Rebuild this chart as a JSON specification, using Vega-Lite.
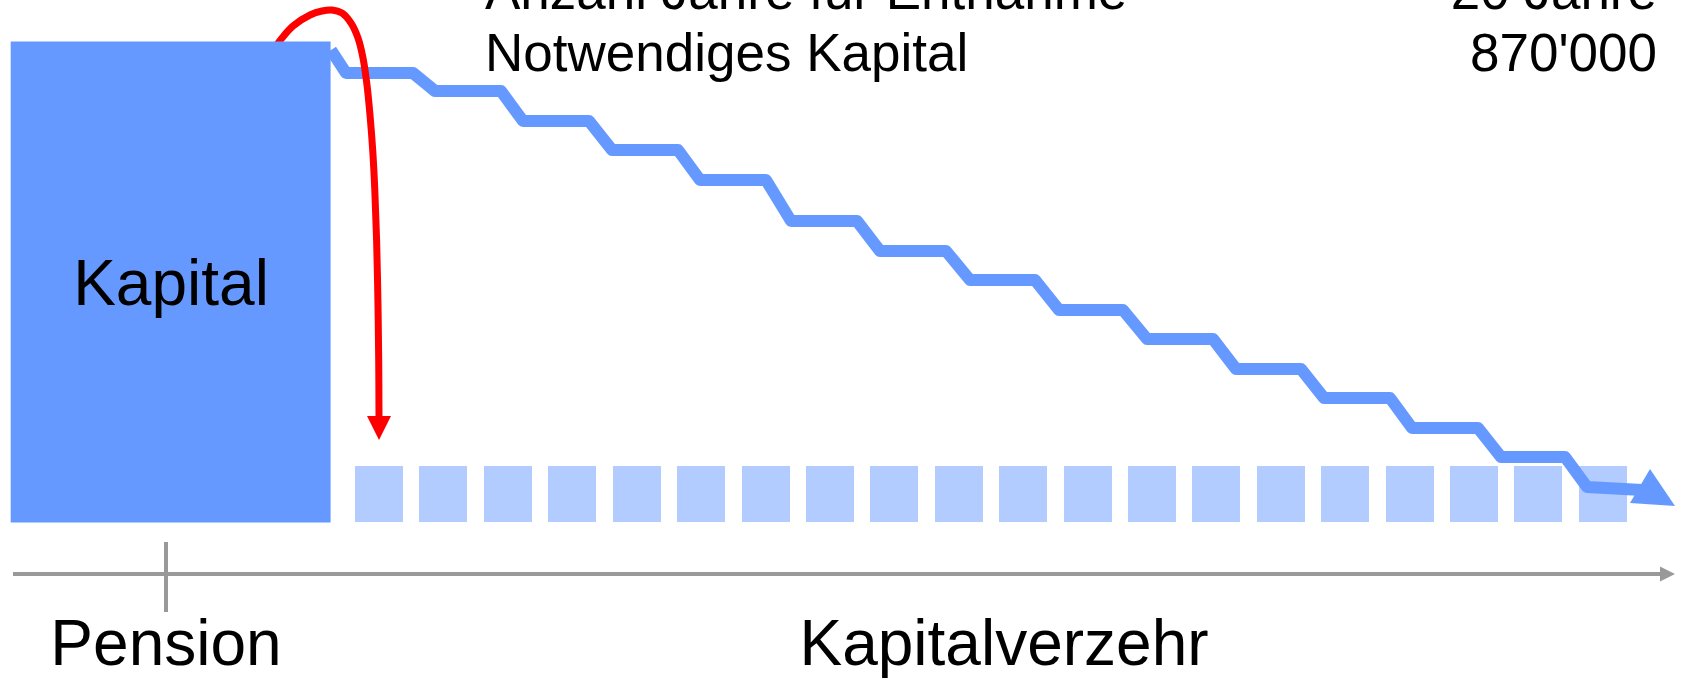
{
  "$schema": "https://vega.github.io/schema/vega-lite/v6.json",
  "width": 1683,
  "height": 679,
  "padding": 0,
  "autosize": {"type": "none"},
  "background": "white",
  "config": {"view": {"stroke": null}, "font": "Liberation Sans"},
  "datasets": {
    "capital": [{"x": 10.7, "x2": 330.6, "y": 41.5, "y2": 522.5}],
    "years": [
      {"year": 1, "x": 355, "x2": 403, "y": 466, "y2": 522},
      {"year": 2, "x": 419, "x2": 467, "y": 466, "y2": 522},
      {"year": 3, "x": 484, "x2": 532, "y": 466, "y2": 522},
      {"year": 4, "x": 548, "x2": 596, "y": 466, "y2": 522},
      {"year": 5, "x": 613, "x2": 661, "y": 466, "y2": 522},
      {"year": 6, "x": 677, "x2": 725, "y": 466, "y2": 522},
      {"year": 7, "x": 742, "x2": 790, "y": 466, "y2": 522},
      {"year": 8, "x": 806, "x2": 854, "y": 466, "y2": 522},
      {"year": 9, "x": 870, "x2": 918, "y": 466, "y2": 522},
      {"year": 10, "x": 935, "x2": 983, "y": 466, "y2": 522},
      {"year": 11, "x": 999, "x2": 1047, "y": 466, "y2": 522},
      {"year": 12, "x": 1064, "x2": 1112, "y": 466, "y2": 522},
      {"year": 13, "x": 1128, "x2": 1176, "y": 466, "y2": 522},
      {"year": 14, "x": 1192, "x2": 1240, "y": 466, "y2": 522},
      {"year": 15, "x": 1257, "x2": 1305, "y": 466, "y2": 522},
      {"year": 16, "x": 1321, "x2": 1369, "y": 466, "y2": 522},
      {"year": 17, "x": 1386, "x2": 1434, "y": 466, "y2": 522},
      {"year": 18, "x": 1450, "x2": 1498, "y": 466, "y2": 522},
      {"year": 19, "x": 1514, "x2": 1562, "y": 466, "y2": 522},
      {"year": 20, "x": 1579, "x2": 1627, "y": 466, "y2": 522}
    ],
    "steps": [
      {"i": 0, "x": 331, "y": 50},
      {"i": 1, "x": 346, "y": 73}, {"i": 2, "x": 413, "y": 73},
      {"i": 3, "x": 435, "y": 91}, {"i": 4, "x": 501, "y": 91},
      {"i": 5, "x": 523, "y": 121}, {"i": 6, "x": 589, "y": 121},
      {"i": 7, "x": 612, "y": 150}, {"i": 8, "x": 678, "y": 150},
      {"i": 9, "x": 700, "y": 180}, {"i": 10, "x": 766, "y": 180},
      {"i": 11, "x": 791, "y": 221}, {"i": 12, "x": 857, "y": 221},
      {"i": 13, "x": 880, "y": 251}, {"i": 14, "x": 946, "y": 251},
      {"i": 15, "x": 970, "y": 280}, {"i": 16, "x": 1035, "y": 280},
      {"i": 17, "x": 1059, "y": 310}, {"i": 18, "x": 1123, "y": 310},
      {"i": 19, "x": 1147, "y": 339}, {"i": 20, "x": 1213, "y": 339},
      {"i": 21, "x": 1236, "y": 369}, {"i": 22, "x": 1301, "y": 369},
      {"i": 23, "x": 1324, "y": 398}, {"i": 24, "x": 1390, "y": 398},
      {"i": 25, "x": 1412, "y": 428}, {"i": 26, "x": 1478, "y": 428},
      {"i": 27, "x": 1501, "y": 457}, {"i": 28, "x": 1565, "y": 457},
      {"i": 29, "x": 1587, "y": 487}, {"i": 30, "x": 1642, "y": 490}
    ],
    "curve": [
      {"i": 0, "x": 276, "y": 46}, {"i": 1, "x": 282, "y": 38},
      {"i": 2, "x": 293, "y": 26}, {"i": 3, "x": 310, "y": 15},
      {"i": 4, "x": 322, "y": 11}, {"i": 5, "x": 332, "y": 10},
      {"i": 6, "x": 342, "y": 13}, {"i": 7, "x": 351, "y": 23},
      {"i": 8, "x": 358, "y": 38}, {"i": 9, "x": 363, "y": 58},
      {"i": 10, "x": 367, "y": 85}, {"i": 11, "x": 370, "y": 115},
      {"i": 12, "x": 372.7, "y": 150}, {"i": 13, "x": 374.8, "y": 190},
      {"i": 14, "x": 376.6, "y": 240}, {"i": 15, "x": 377.9, "y": 300},
      {"i": 16, "x": 378.7, "y": 360}, {"i": 17, "x": 379, "y": 418}
    ],
    "redHead": [{"x": 379, "y": 428}],
    "blueHead": [{"x": 1652, "y": 494}],
    "grayHead": [{"x": 1667.5, "y": 574}],
    "axisLine": [{"x": 13, "x2": 1662, "y": 574}],
    "tick": [{"x": 166, "y": 542, "y2": 612}],
    "headLeft": [
      {"label": "Anzahl Jahre für Entnahme", "x": 485, "y": 9},
      {"label": "Notwendiges Kapital", "x": 485, "y": 71}
    ],
    "headRight": [
      {"label": "20 Jahre", "x": 1657, "y": 9},
      {"label": "870'000", "x": 1657, "y": 71}
    ],
    "labels": [
      {"label": "Kapital", "x": 171, "y": 305},
      {"label": "Pension", "x": 166, "y": 665},
      {"label": "Kapitalverzehr", "x": 1004, "y": 665}
    ]
  },
  "layer": [
    {
      "data": {"name": "years"},
      "mark": {"type": "rect", "color": "#B3CCFF"},
      "encoding": {
        "x": {"field": "x", "type": "quantitative", "scale": {"domain": [0, 1683], "nice": false, "zero": false}, "axis": null},
        "x2": {"field": "x2"},
        "y": {"field": "y", "type": "quantitative", "scale": {"domain": [0, 679], "nice": false, "zero": false, "reverse": true}, "axis": null},
        "y2": {"field": "y2"}
      }
    },
    {
      "data": {"name": "steps"},
      "mark": {"type": "line", "color": "#6699FF", "strokeWidth": 12, "strokeJoin": "round", "strokeCap": "butt"},
      "encoding": {
        "x": {"field": "x", "type": "quantitative", "scale": {"domain": [0, 1683], "nice": false, "zero": false}, "axis": null},
        "y": {"field": "y", "type": "quantitative", "scale": {"domain": [0, 679], "nice": false, "zero": false, "reverse": true}, "axis": null},
        "order": {"field": "i", "type": "quantitative"}
      }
    },
    {
      "data": {"name": "curve"},
      "mark": {"type": "line", "color": "#FF0000", "strokeWidth": 7, "interpolate": "catmull-rom", "strokeCap": "butt"},
      "encoding": {
        "x": {"field": "x", "type": "quantitative", "scale": {"domain": [0, 1683], "nice": false, "zero": false}, "axis": null},
        "y": {"field": "y", "type": "quantitative", "scale": {"domain": [0, 679], "nice": false, "zero": false, "reverse": true}, "axis": null},
        "order": {"field": "i", "type": "quantitative"}
      }
    },
    {
      "data": {"name": "capital"},
      "mark": {"type": "rect", "color": "#6699FF"},
      "encoding": {
        "x": {"field": "x", "type": "quantitative", "scale": {"domain": [0, 1683], "nice": false, "zero": false}, "axis": null},
        "x2": {"field": "x2"},
        "y": {"field": "y", "type": "quantitative", "scale": {"domain": [0, 679], "nice": false, "zero": false, "reverse": true}, "axis": null},
        "y2": {"field": "y2"}
      }
    },
    {
      "data": {"name": "redHead"},
      "mark": {"type": "point", "shape": "M-1,-1L1,-1L0,1Z", "size": 576, "filled": true, "color": "#FF0000", "opacity": 1, "strokeWidth": 0},
      "encoding": {
        "x": {"field": "x", "type": "quantitative", "scale": {"domain": [0, 1683], "nice": false, "zero": false}, "axis": null},
        "y": {"field": "y", "type": "quantitative", "scale": {"domain": [0, 679], "nice": false, "zero": false, "reverse": true}, "axis": null}
      }
    },
    {
      "data": {"name": "blueHead"},
      "mark": {"type": "point", "shape": "M-0.08,-1L-0.88,0.36L0.92,0.48Z", "size": 2500, "filled": true, "color": "#6699FF", "opacity": 1, "strokeWidth": 0},
      "encoding": {
        "x": {"field": "x", "type": "quantitative", "scale": {"domain": [0, 1683], "nice": false, "zero": false}, "axis": null},
        "y": {"field": "y", "type": "quantitative", "scale": {"domain": [0, 679], "nice": false, "zero": false, "reverse": true}, "axis": null}
      }
    },
    {
      "data": {"name": "axisLine"},
      "mark": {"type": "rule", "color": "#999999", "strokeWidth": 4},
      "encoding": {
        "x": {"field": "x", "type": "quantitative", "scale": {"domain": [0, 1683], "nice": false, "zero": false}, "axis": null},
        "x2": {"field": "x2"},
        "y": {"field": "y", "type": "quantitative", "scale": {"domain": [0, 679], "nice": false, "zero": false, "reverse": true}, "axis": null}
      }
    },
    {
      "data": {"name": "tick"},
      "mark": {"type": "rule", "color": "#999999", "strokeWidth": 4},
      "encoding": {
        "x": {"field": "x", "type": "quantitative", "scale": {"domain": [0, 1683], "nice": false, "zero": false}, "axis": null},
        "y": {"field": "y", "type": "quantitative", "scale": {"domain": [0, 679], "nice": false, "zero": false, "reverse": true}, "axis": null},
        "y2": {"field": "y2"}
      }
    },
    {
      "data": {"name": "grayHead"},
      "mark": {"type": "point", "shape": "M-1,-1L1,0L-1,1Z", "size": 225, "filled": true, "color": "#999999", "opacity": 1, "strokeWidth": 0},
      "encoding": {
        "x": {"field": "x", "type": "quantitative", "scale": {"domain": [0, 1683], "nice": false, "zero": false}, "axis": null},
        "y": {"field": "y", "type": "quantitative", "scale": {"domain": [0, 679], "nice": false, "zero": false, "reverse": true}, "axis": null}
      }
    },
    {
      "data": {"name": "headLeft"},
      "mark": {"type": "text", "font": "Liberation Sans", "fontSize": 53, "align": "left", "baseline": "alphabetic", "color": "#000000"},
      "encoding": {
        "x": {"field": "x", "type": "quantitative", "scale": {"domain": [0, 1683], "nice": false, "zero": false}, "axis": null},
        "y": {"field": "y", "type": "quantitative", "scale": {"domain": [0, 679], "nice": false, "zero": false, "reverse": true}, "axis": null},
        "text": {"field": "label"}
      }
    },
    {
      "data": {"name": "headRight"},
      "mark": {"type": "text", "font": "Liberation Sans", "fontSize": 53, "align": "right", "baseline": "alphabetic", "color": "#000000"},
      "encoding": {
        "x": {"field": "x", "type": "quantitative", "scale": {"domain": [0, 1683], "nice": false, "zero": false}, "axis": null},
        "y": {"field": "y", "type": "quantitative", "scale": {"domain": [0, 679], "nice": false, "zero": false, "reverse": true}, "axis": null},
        "text": {"field": "label"}
      }
    },
    {
      "data": {"name": "labels"},
      "mark": {"type": "text", "font": "Liberation Sans", "fontSize": 64, "align": "center", "baseline": "alphabetic", "color": "#000000"},
      "encoding": {
        "x": {"field": "x", "type": "quantitative", "scale": {"domain": [0, 1683], "nice": false, "zero": false}, "axis": null},
        "y": {"field": "y", "type": "quantitative", "scale": {"domain": [0, 679], "nice": false, "zero": false, "reverse": true}, "axis": null},
        "text": {"field": "label"}
      }
    }
  ]
}
